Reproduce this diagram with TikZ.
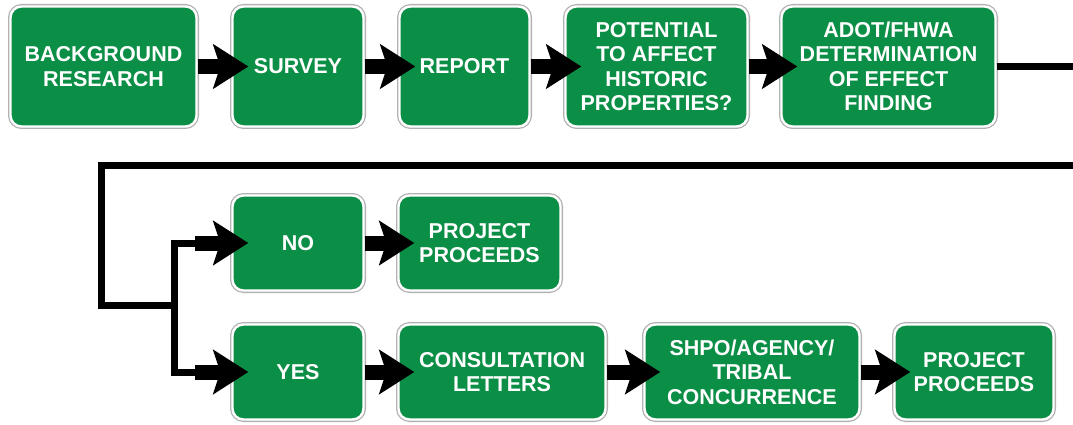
\documentclass[tikz,border=0pt]{standalone}
\usepackage{fontspec}
\setmainfont{Liberation Sans}
\usetikzlibrary{arrows.meta}
\definecolor{signgreen}{RGB}{11,142,69}

\begin{document}
\begin{tikzpicture}[x=1pt, y=-1pt,
		sign/.style={rectangle, rounded corners=11pt, fill=signgreen, draw=white, line width=2.4pt,
			preaction={draw=gray!60, line width=5pt}, text=white, align=center, inner sep=0pt,
			font=\fontsize{21.5}{24.5}\selectfont\bfseries},
		flow/.style={line width=15pt, -{Stealth[length=35pt, width=44pt, inset=7pt]}},
		conn/.style={line width=7pt}]
		\useasboundingbox (0,0) rectangle (1073,425);
		\clip (0,0) rectangle (1073,425);
		
		% first row
		\node[sign, minimum width=186pt, minimum height=120pt] (bg) at (103.5,66.5) {BACKGROUND\\RESEARCH};
		\node[sign, minimum width=131pt, minimum height=120pt] (survey) at (298,66.5) {SURVEY};
		\node[sign, minimum width=130pt, minimum height=120pt] (report) at (464.5,66.5) {REPORT};
		\node[sign, minimum width=182pt, minimum height=120pt] (potential) at (656.5,66.5) {POTENTIAL\\TO AFFECT\\HISTORIC\\PROPERTIES?};
		\node[sign, minimum width=214pt, minimum height=120pt] (adot) at (888.5,66.5) {ADOT/FHWA\\DETERMINATION\\OF EFFECT\\FINDING};
		\draw[flow] (bg.east) -- ([xshift=17pt]survey.west);
		\draw[flow] (survey.east) -- ([xshift=17pt]report.west);
		\draw[flow] (report.east) -- ([xshift=17pt]potential.west);
		\draw[flow] (potential.east) -- ([xshift=17pt]adot.west);
		
		% second and third row
		\node[sign, minimum width=131pt, minimum height=95pt] (no) at (298,243) {NO};
		\node[sign, minimum width=162pt, minimum height=95pt] (proceeds1) at (479.5,243) {PROJECT\\PROCEEDS};
		\node[sign, minimum width=131pt, minimum height=95pt] (yes) at (298,372) {YES};
		\node[sign, minimum width=207pt, minimum height=95pt] (letters) at (502,372) {CONSULTATION\\LETTERS};
		\node[sign, minimum width=215pt, minimum height=95pt] (shpo) at (752,372) {SHPO/AGENCY/\\TRIBAL\\CONCURRENCE};
		\node[sign, minimum width=159pt, minimum height=95pt] (proceeds2) at (974,372) {PROJECT\\PROCEEDS};
		\draw[flow] (no.east) -- ([xshift=17pt]proceeds1.west);
		\draw[flow] (yes.east) -- ([xshift=17pt]letters.west);
		\draw[flow] (letters.east) -- ([xshift=17pt]shpo.west);
		\draw[flow] (shpo.east) -- ([xshift=17pt]proceeds2.west);
		
		% return line and branch
		\coordinate (edge) at (1077,165);
		\coordinate (drop) at (101,305);
		\coordinate (split) at (174,305);
		\coordinate (noin) at ([xshift=-36pt]no.west);
		\coordinate (yesin) at ([xshift=-36pt]yes.west);
		\draw[conn] (adot.east) -| (edge) -- (edge -| drop) -- (drop) -- (split);
		\draw[conn] (noin) -| (yesin -| split) -- (yesin);
		\draw[flow] (noin) -- ([xshift=17pt]no.west);
		\draw[flow] (yesin) -- ([xshift=17pt]yes.west);
	\end{tikzpicture}
\end{document}
